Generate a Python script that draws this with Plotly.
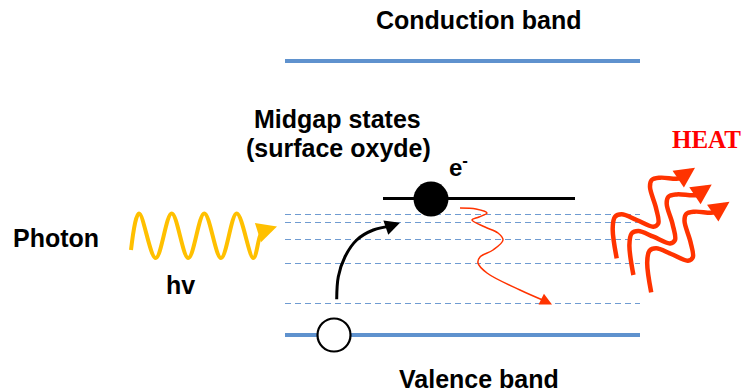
import plotly.graph_objects as go

# ---- diagram data (pixel-space coordinates) ----
band_x = [285, 640]
conduction_y = [61, 61]
valence_y = [335, 335]
midgap_x = [383, 575]
midgap_y = [198.5, 198.5]
trap_levels = [214.5, 222.5, 239.5, 263.5, 303.5]
electron_xy = [431, 199]
hole_xy = [334, 335]

photon_x = [131, 139, 155.7, 171.7, 188.3, 204.3, 221, 236.7, 253.3, 260, 263]
photon_y = [250, 213.5, 258, 213.5, 258, 213.5, 258, 213.5, 258, 236, 231]
photon_head = [263, 231, 277, 226.5]

excite_x = [336.7, 338.3, 345, 356.7, 373.3, 391.7]
excite_y = [299.3, 276.7, 256.7, 240, 230, 226]
excite_head = [389, 226.5, 400, 222.7]

relax_x = [460, 476, 487, 479, 472, 485, 498, 503, 493, 480, 478, 487, 520, 545]
relax_y = [208, 209, 213, 217, 220, 227, 233, 240, 250, 257, 263, 273, 290, 301]
relax_head = [540, 298.5, 552, 304.5]

heat_x = [616.7, 612.7, 615, 621.7, 636.7, 653.3, 658.3, 656, 650, 651.7, 660, 680, 686]
heat_y = [258.3, 228.3, 216.7, 214.3, 220, 226.7, 223.3, 208, 187, 180, 177.7, 178.3, 174]
heat_head = [682, 176.5, 695, 167.7]
heat_offsets = [(0, 0), (16.7, 16.7), (34.5, 34)]

labels = [
    ("Conduction band", 479, 20, 25, "black", "Liberation Sans, Arial"),
    ("Midgap states", 337.5, 119, 25, "black", "Liberation Sans, Arial"),
    ("(surface oxyde)", 338.5, 148, 25, "black", "Liberation Sans, Arial"),
    ("e<sup>-</sup>", 458, 166, 24, "black", "Liberation Sans, Arial"),
    ("Photon", 56, 238, 25, "black", "Liberation Sans, Arial"),
    ("hv", 180, 285, 25, "black", "Liberation Sans, Arial"),
    ("Valence band", 479, 379, 25, "black", "Liberation Sans, Arial"),
    ("HEAT", 706, 139, 25, "#FF0000", "Liberation Serif, Times New Roman"),
]

BAND_COLOR = "#5F92CE"
DASH_COLOR = "#6F9BD1"
YELLOW = "#FFC000"
RED = "#FF3300"

fig = go.Figure()

# trap levels (dashed)
for ty in trap_levels:
    fig.add_trace(go.Scatter(x=band_x, y=[ty, ty], mode="lines",
                             line=dict(color=DASH_COLOR, width=1, dash="6px,4px"),
                             hoverinfo="skip"))

# bands
fig.add_trace(go.Scatter(x=band_x, y=conduction_y, mode="lines",
                         line=dict(color=BAND_COLOR, width=4), hoverinfo="skip"))
fig.add_trace(go.Scatter(x=band_x, y=valence_y, mode="lines",
                         line=dict(color=BAND_COLOR, width=4), hoverinfo="skip"))
fig.add_trace(go.Scatter(x=midgap_x, y=midgap_y, mode="lines",
                         line=dict(color="black", width=3), hoverinfo="skip"))

# photon wave
fig.add_trace(go.Scatter(x=photon_x, y=photon_y, mode="lines",
                         line=dict(color=YELLOW, width=4, shape="spline", smoothing=1.0),
                         hoverinfo="skip"))
# excitation arrow
fig.add_trace(go.Scatter(x=excite_x, y=excite_y, mode="lines",
                         line=dict(color="black", width=3, shape="spline"),
                         hoverinfo="skip"))
# relaxation wiggle
fig.add_trace(go.Scatter(x=relax_x, y=relax_y, mode="lines",
                         line=dict(color=RED, width=1.5, shape="spline"),
                         hoverinfo="skip"))
# heat arrows
for dx, dy in heat_offsets:
    fig.add_trace(go.Scatter(x=[v + dx for v in heat_x], y=[v + dy for v in heat_y],
                             mode="lines",
                             line=dict(color=RED, width=4.5, shape="spline"),
                             hoverinfo="skip"))

# electron and hole
fig.add_trace(go.Scatter(x=[electron_xy[0]], y=[electron_xy[1]], mode="markers",
                         marker=dict(size=35, color="black", line=dict(width=0)),
                         hoverinfo="skip"))
fig.add_trace(go.Scatter(x=[hole_xy[0]], y=[hole_xy[1]], mode="markers",
                         marker=dict(size=33, color="white", line=dict(width=2.2, color="black")),
                         hoverinfo="skip"))

# arrowheads
def head(h, color, width, size, dx=0, dy=0):
    fig.add_annotation(x=h[2] + dx, y=h[3] + dy, ax=h[0] + dx, ay=h[1] + dy,
                       xref="x", yref="y", axref="x", ayref="y", text=" ",
                       font=dict(size=1),
                       showarrow=True, arrowhead=2, arrowsize=size,
                       arrowwidth=width, arrowcolor=color)

head(photon_head, YELLOW, 4, 1.0)
head(excite_head, "black", 3, 1.0)
head(relax_head, RED, 1.5, 1.6)
for dx, dy in heat_offsets:
    head(heat_head, RED, 4.5, 0.9, dx, dy)

for text, x, y, size, color, fam in labels:
    fig.add_annotation(x=x, y=y, xref="x", yref="y", text=text, showarrow=False,
                       xanchor="center", yanchor="middle",
                       font=dict(family=fam, size=size, color=color, weight="bold"))

fig.update_layout(
    width=742, height=392,
    margin=dict(l=0, r=0, t=0, b=0),
    paper_bgcolor="white", plot_bgcolor="white",
    showlegend=False,
    xaxis=dict(range=[0, 742], visible=False, fixedrange=True),
    yaxis=dict(range=[392, 0], visible=False, fixedrange=True),
)

fig.write_html("out.html", config={"displayModeBar": False},
               post_script="document.body.style.margin='0px';")
